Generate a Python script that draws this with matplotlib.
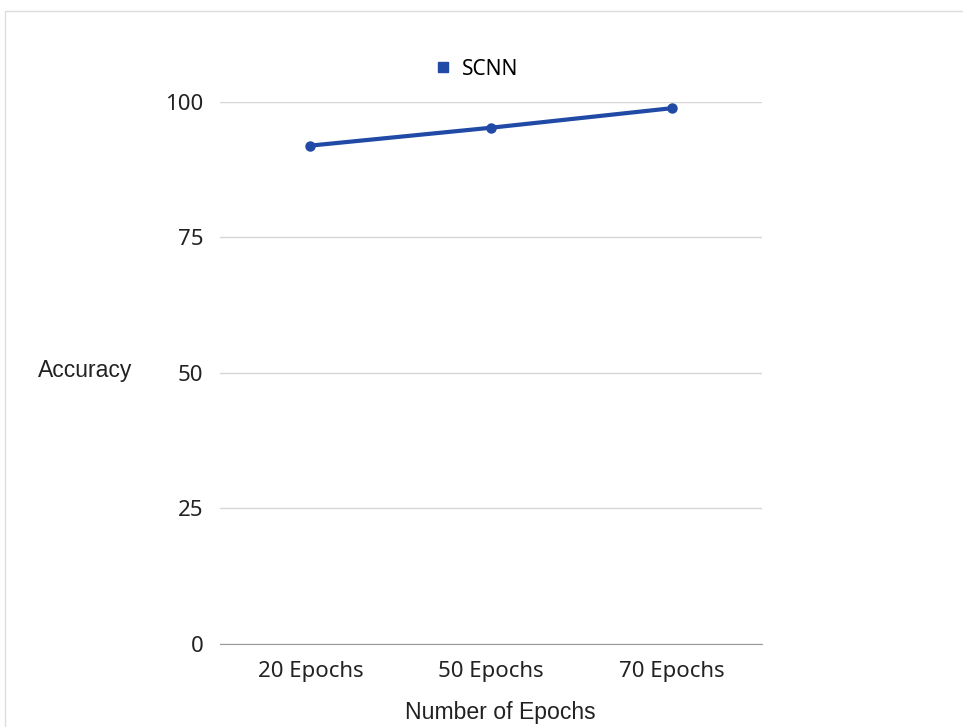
import matplotlib.pyplot as plt
from matplotlib.lines import Line2D
from matplotlib.patches import Rectangle

# data
categories = ["20 Epochs", "50 Epochs", "70 Epochs"]
accuracy = [91.9, 95.2, 98.8]
yticks = [0, 25, 50, 75, 100]

blue = "#2149a6"

fig = plt.figure(figsize=(9.63, 7.27), dpi=100)
fig.patches.append(Rectangle((5 / 963, -0.1), 1.1, 1 - 11 / 727 + 0.1,
                             transform=fig.transFigure, fill=False,
                             edgecolor="#dddddd", linewidth=1))

ax = fig.add_axes([220 / 963, 1 - 644 / 727, 542 / 963, (644 - 101.7) / 727])

x = [i + 0.5 for i in range(len(categories))]
ax.plot(x, accuracy, color=blue, linewidth=3, marker="o", markersize=6.5,
        solid_capstyle="round")

ax.set_xlim(0, len(categories))
ax.set_ylim(0, 100)
ax.set_yticks(yticks)
ax.set_xticks(x)
ax.set_xticklabels(categories)
ax.tick_params(length=0, labelsize=16, colors="#222222", pad=12.5)
ax.tick_params(axis="y", pad=12)
for lab in ax.get_xticklabels() + ax.get_yticklabels():
    lab.set_family("Noto Sans")

ax.grid(axis="y", color="#d6d6d6", linewidth=1)
ax.set_axisbelow(True)
for s in ["top", "right", "left"]:
    ax.spines[s].set_visible(False)
ax.spines["bottom"].set_color("#9a9a9a")

ax.set_xlabel("Number of Epochs", fontsize=16.6, family="Liberation Sans",
              color="#222222")
ax.xaxis.set_label_coords(0.517, -0.105)
ax.set_ylabel("Accuracy", fontsize=16.5, family="Liberation Sans",
              color="#222222", rotation=0, ha="center", va="center")
ax.yaxis.set_label_coords(-0.249, 0.505)

handle = Line2D([], [], color=blue, marker="s", linestyle="none", markersize=7)
ax.legend([handle], ["SCNN"], loc="center", bbox_to_anchor=(0.472, 1.06),
          frameon=False, prop={"family": "Noto Sans", "size": 15},
          handletextpad=0.4, handlelength=1)

fig.savefig("out.png", dpi=100)
